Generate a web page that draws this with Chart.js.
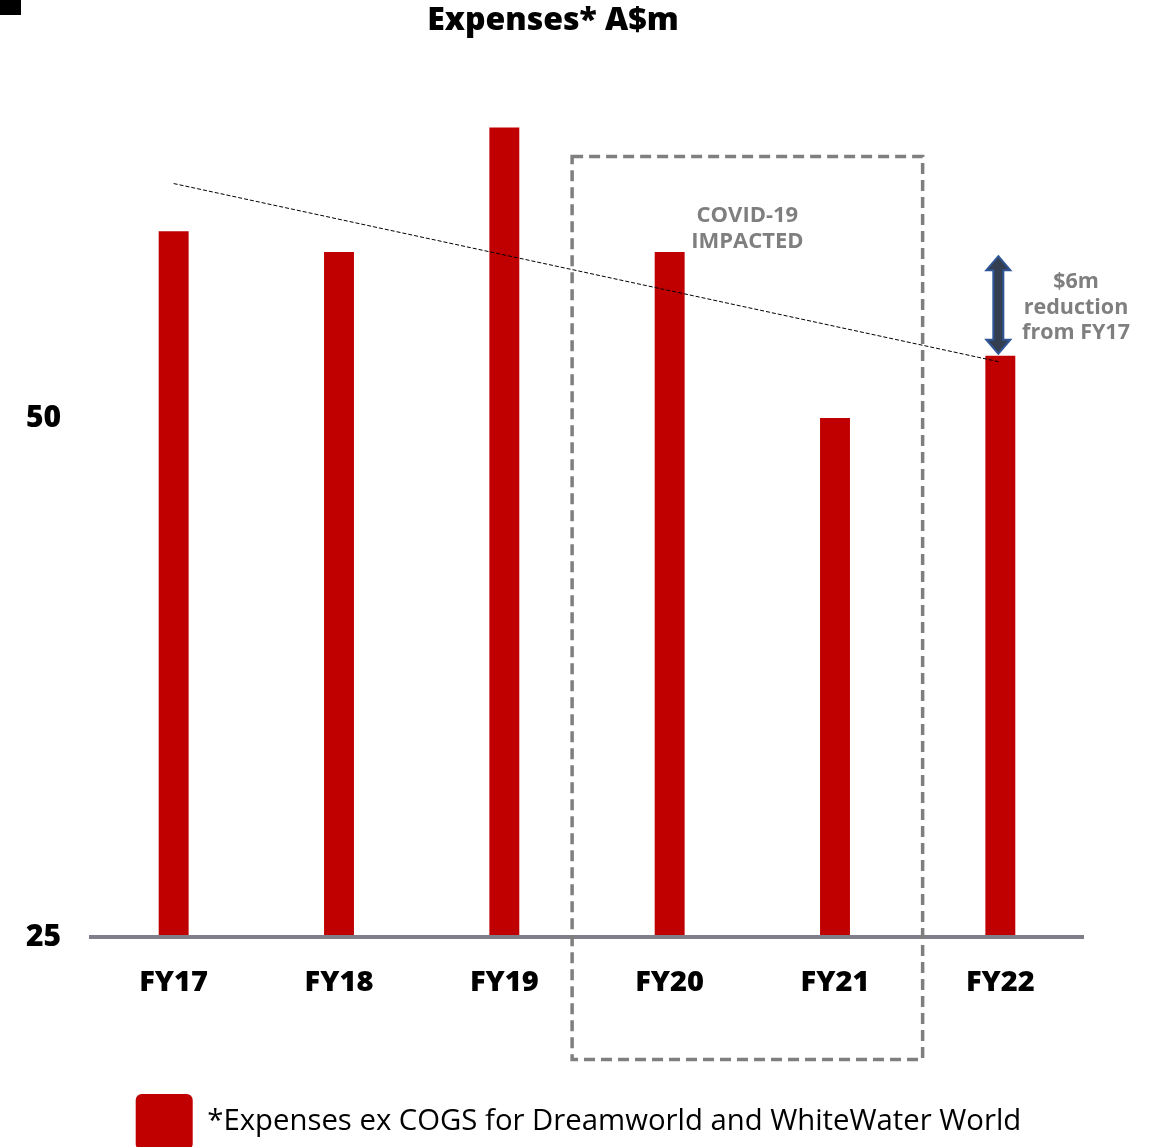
<!DOCTYPE html>
<html lang="en">
<head>
<meta charset="UTF-8">
<title>Expenses* A$m</title>
<style>
  html, body { margin: 0; padding: 0; background: #fff; }
  #wrap { position: relative; width: 1151px; height: 1147px; overflow: hidden; }
  .corner { position: absolute; left: 0; top: 0; width: 21px; height: 15px; background: #000; }
</style>
</head>
<body>
<div id="wrap">
  <div class="corner"></div>
  <canvas id="expensesChart"></canvas>
</div>
<script src="https://cdn.jsdelivr.net/npm/chart.js@4.4.0/dist/chart.umd.min.js"></script>
<script>
// expenses by financial year, A$m
const years = ['FY17', 'FY18', 'FY19', 'FY20', 'FY21', 'FY22'];
const expenses = [59, 58, 64, 58, 50, 53];
// trend line from FY17 down to FY22
const trend = [61.3, null, null, null, null, 52.7];
const yTicks = [25, 50];

const titleText = 'Expenses* A$m';
const seriesLabel = '*Expenses ex COGS for Dreamworld and WhiteWater World';
const covidText = ['COVID-19', 'IMPACTED'];
const reductionText = ['$6m', 'reduction', 'from FY17'];

// arrow between the two values (FY22 column)
const arrowRange = [53.1, 57.8];

// dashed box around the covid years, in category index / value units
const boxX = [2.41, 4.53];
const boxY = [19.1, 62.6];

const RED = '#C00000';
const GREY = '#7f7f7f';
const FONT = '"Open Sans", "DejaVu Sans", sans-serif';

const overlays = {
  id: 'overlays',
  afterDraw(chart) {
    const { ctx, scales: { x, y } } = chart;
    ctx.save();

    // title
    ctx.fillStyle = '#000';
    ctx.font = '800 32px ' + FONT;
    ctx.textAlign = 'center';
    ctx.textBaseline = 'middle';
    ctx.fillText(titleText, 553, 21);

    // covid box
    const x1 = x.getPixelForValue(boxX[0]);
    const x2 = x.getPixelForValue(boxX[1]);
    const y1 = y.getPixelForValue(boxY[1]);
    const y2 = y.getPixelForValue(boxY[0]);
    ctx.strokeStyle = GREY;
    ctx.lineWidth = 3.5;
    ctx.setLineDash([11, 6]);
    ctx.strokeRect(x1, y1, x2 - x1, y2 - y1);
    ctx.setLineDash([]);

    // covid label
    ctx.fillStyle = GREY;
    ctx.font = '700 22px ' + FONT;
    const cx = (x1 + x2) / 2;
    covidText.forEach((t, i) => ctx.fillText(t, cx, 216 + i * 26));

    // reduction arrow
    const ax = x.getPixelForValue(5) - 2;
    const top = y.getPixelForValue(arrowRange[1]);
    const bot = y.getPixelForValue(arrowRange[0]);
    const head = 14, hw = 12, sw = 5;
    ctx.beginPath();
    ctx.moveTo(ax, top);
    ctx.lineTo(ax + hw, top + head);
    ctx.lineTo(ax + sw, top + head);
    ctx.lineTo(ax + sw, bot - head);
    ctx.lineTo(ax + hw, bot - head);
    ctx.lineTo(ax, bot);
    ctx.lineTo(ax - hw, bot - head);
    ctx.lineTo(ax - sw, bot - head);
    ctx.lineTo(ax - sw, top + head);
    ctx.lineTo(ax - hw, top + head);
    ctx.closePath();
    ctx.fillStyle = '#333f50';
    ctx.fill();
    ctx.strokeStyle = '#2f5597';
    ctx.lineWidth = 2;
    ctx.stroke();

    // reduction label
    ctx.fillStyle = GREY;
    ctx.font = '700 21.5px ' + FONT;
    reductionText.forEach((t, i) => ctx.fillText(t, 1076, 282 + i * 25.5));

    ctx.restore();
  }
};

new Chart(document.getElementById('expensesChart'), {
  type: 'bar',
  data: {
    labels: years,
    datasets: [
      {
        type: 'line',
        label: 'trend',
        data: trend,
        spanGaps: true,
        borderColor: '#000',
        borderWidth: 1,
        borderDash: [4, 2],
        pointRadius: 0,
        order: 0
      },
      {
        label: seriesLabel,
        data: expenses,
        backgroundColor: RED,
        borderWidth: 0,
        barPercentage: 0.181,
        categoryPercentage: 1,
        order: 1
      }
    ]
  },
  options: {
    responsive: true,
    maintainAspectRatio: false,
    animation: false,
    // left padding keeps the legend centred under the page; the y labels are
    // mirrored with a negative padding so they sit out to the left of the axis
    layout: { padding: { top: 86, right: 68, bottom: -13, left: 74 } },
    plugins: {
      title: { display: false },
      tooltip: { enabled: false },
      legend: {
        position: 'bottom',
        labels: {
          filter: item => item.datasetIndex === 1,
          color: '#000',
          font: { family: FONT, size: 29.3, weight: '400' },
          boxWidth: 57,
          boxHeight: 56,
          padding: 0,
          useBorderRadius: true,
          borderRadius: 6
        }
      }
    },
    scales: {
      x: {
        grid: { display: false },
        border: { display: true, color: '#7f7f89', width: 4, z: 1 },
        ticks: { color: '#000', padding: 20, font: { family: FONT, size: 29, weight: '800' } },
        afterFit(scale) { scale.height = 157; }
      },
      y: {
        min: 25,
        max: 66,
        grid: { display: false },
        border: { display: false },
        ticks: {
          color: '#000',
          mirror: true,
          padding: -65,
          font: { family: FONT, size: 30, weight: '800' }
        },
        afterBuildTicks(scale) { scale.ticks = yTicks.map(v => ({ value: v })); },
        afterFit(scale) { scale.width = 17; }
      }
    }
  },
  plugins: [overlays]
});
</script>
</body>
</html>
